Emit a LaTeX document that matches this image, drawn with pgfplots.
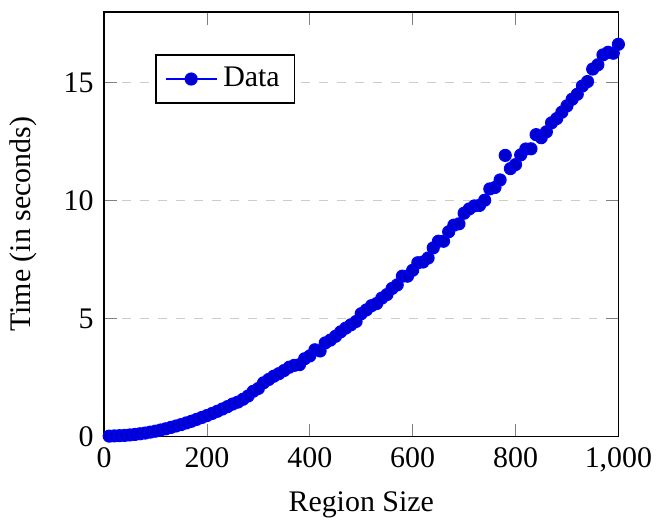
\documentclass[border=0pt]{standalone}
\usepackage{fontspec}
\setmainfont{Liberation Serif}
\usepackage{pgfplots}
\pgfplotsset{compat=1.18}

\begin{document}
\begin{tikzpicture}
    \begin{axis}[
            scale only axis,
            width=172pt,
            height=142pt,
            xmin=0, xmax=1000,
            ymin=0, ymax=18,
            xlabel={Region Size},
            ylabel={Time (in seconds)},
            ylabel style={yshift=2pt},
            ymajorgrids,
            grid style={dashed, gray!40},
            legend style={at={(0.1,0.9)}, anchor=north west},
            legend cell align=left,
            /pgf/number format/assume math mode=true,
        ]
        \addplot+[only marks, legend image post style={sharp plot, draw=blue}] coordinates {
            (10,0.02) (20,0.03) (30,0.04) (40,0.05) (50,0.07)
            (60,0.09) (70,0.12) (80,0.15) (90,0.19) (100,0.23)
            (110,0.28) (120,0.33) (130,0.39) (140,0.45) (150,0.51)
            (160,0.58) (170,0.65) (180,0.73) (190,0.81) (200,0.89)
            (210,0.98) (220,1.07) (230,1.17) (240,1.27) (250,1.38)
            (260,1.46) (270,1.58) (280,1.72) (290,1.92) (300,2.04)
            (310,2.28) (320,2.42) (330,2.56) (340,2.67) (350,2.80)
            (360,2.94) (370,3.02) (380,3.05) (390,3.30) (400,3.42)
            (410,3.68) (420,3.63) (430,3.97) (440,4.09) (450,4.25)
            (460,4.44) (470,4.60) (480,4.74) (490,4.88) (500,5.21)
            (510,5.37) (520,5.55) (530,5.64) (540,5.87) (550,6.02)
            (560,6.28) (570,6.43) (580,6.80) (590,6.80) (600,7.05)
            (610,7.37) (620,7.40) (630,7.57) (640,8.00) (650,8.28)
            (660,8.28) (670,8.68) (680,8.96) (690,9.02) (700,9.47)
            (710,9.65) (720,9.78) (730,9.80) (740,10.02) (750,10.50)
            (760,10.56) (770,10.88) (780,11.92) (790,11.36) (800,11.53)
            (810,11.94) (820,12.19) (830,12.20) (840,12.80) (850,12.67)
            (860,12.92) (870,13.30) (880,13.48) (890,13.75) (900,14.02)
            (910,14.30) (920,14.51) (930,14.86) (940,15.05) (950,15.58)
            (960,15.76) (970,16.18) (980,16.29) (990,16.25) (1000,16.63)
        };
        \legend{Data}
    \end{axis}
    \path ([yshift=4pt]current axis.north west);
\end{tikzpicture}
\end{document}
